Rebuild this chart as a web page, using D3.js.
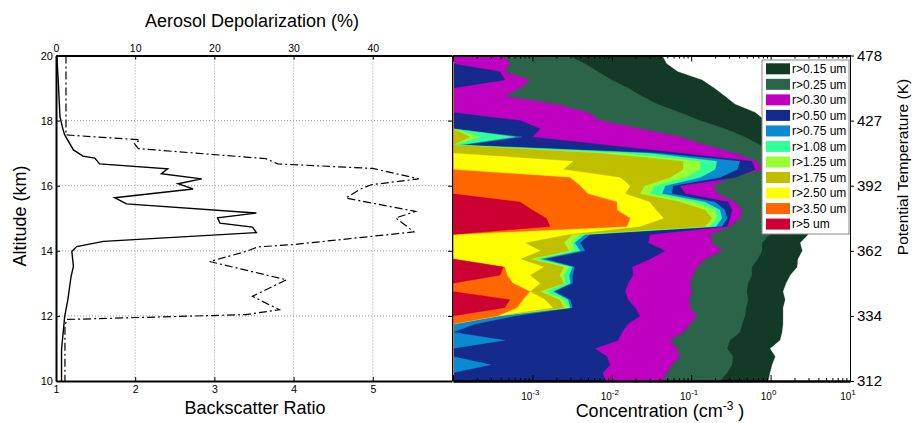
<!DOCTYPE html>
<html><head><meta charset="utf-8">
<script src="https://cdn.jsdelivr.net/npm/d3@7"></script>
<style>
body{margin:0;background:#fff}
svg{display:block}
text{font-family:Arial,"Liberation Sans",sans-serif;fill:#000}
</style>
</head><body>
<svg id="c" width="912" height="423"></svg>
<script>
const n = null;
// Altitude grid (km) for the size-resolved concentration profiles
const altitudes = [20,19.75,19.5,19.25,19,18.75,18.5,18.25,18,17.75,17.5,17.25,17,16.75,16.5,16.25,16,15.75,15.5,15.25,15,14.75,14.5,14.25,14,13.75,13.5,13.25,13,12.75,12.5,12.25,12,11.75,11.5,11.25,11,10.75,10.5,10.25,10];
// Cumulative concentrations (cm^-3)
const r015 = [0.043,0.049,0.068,0.137,0.194,0.266,0.356,0.64,0.85,1.14,1.52,2.03,2.71,3.32,3.96,4.2,4.4,4.4,4.2,3.96,3.62,3.32,2.96,2.35,2.5,2.2,2.15,1.76,1.56,1.43,1.52,1.43,1.43,1.43,1.39,1.31,0.98,1.14,1.04,0.98,0.93];
const r025 = [0.0028,0.0046,0.0067,0.010,0.016,0.024,0.038,0.072,0.129,0.266,0.476,0.735,0.98,1.24,1.52,1.76,1.76,1.76,1.66,1.52,1.39,1.24,0.98,0.78,0.78,0.69,0.58,0.58,0.52,0.50,0.52,0.49,0.476,0.437,0.41,0.308,0.283,0.336,0.326,0.283,0.231];
const r030 = [4.3e-4,5.2e-4,4.5e-4,9.3e-4,7.0e-4,4.5e-4,2.0e-3,5.0e-3,7.1e-3,0.0226,0.072,0.149,0.356,0.67,0.78,0.308,0.188,0.211,0.356,0.437,0.41,0.308,0.173,0.183,0.244,0.149,0.118,0.105,0.096,0.102,0.094,0.096,0.118,0.096,0.079,0.054,0.066,0.072,0.057,0.049,0.044];
const r050 = [n,n,3.9e-4,4.5e-4,n,n,n,n,7.0e-4,1.25e-3,1.0e-3,8.2e-3,0.075,0.58,0.64,0.356,0.072,0.084,0.29,0.326,0.308,0.283,0.0303,0.0286,0.0467,0.0303,0.018,0.0185,0.016,0.0147,0.016,0.0196,0.0226,0.016,0.0134,0.012,0.0061,0.0087,0.0095,0.0077,0.0082];
const r075 = [n,n,n,n,n,n,n,n,n,n,7.4e-4,1.34e-4,0.04,0.41,0.38,0.23,0.059,0.057,0.20,0.266,0.283,0.244,5.3e-3,4.0e-3,4.6e-3,1.44e-3,3.4e-3,3.2e-3,3.2e-3,1.9e-3,3.0e-3,3.2e-3,6.0e-4,1.9e-4,n,4.5e-4,n,n,3.0e-4,n,n];
const r108 = [n,n,n,n,n,n,n,n,n,n,6.0e-4,1.2e-4,0.030,0.21,0.20,0.129,0.047,0.043,0.149,0.23,0.244,0.205,4.6e-3,3.4e-3,4.0e-3,1.25e-3,3.2e-3,2.9e-3,3.0e-3,1.8e-3,2.8e-3,3.0e-3,3.9e-4,n,n,n,n,n,n,n,n];
const r125 = [n,n,n,n,n,n,n,n,n,n,2.2e-4,n,0.0127,0.129,0.129,0.084,0.035,0.030,0.112,0.20,0.21,0.173,4.0e-3,3.2e-3,3.4e-3,1.08e-3,2.9e-3,2.5e-3,2.6e-3,1.44e-3,2.5e-3,2.9e-3,3.6e-4,n,n,n,n,n,n,n,n];
const r175 = [n,n,n,n,n,n,n,n,n,n,1.64e-4,n,7.1e-3,0.079,0.079,0.054,0.026,0.0226,0.072,0.149,0.183,0.149,3.2e-3,2.5e-3,2.9e-3,9.3e-4,2.5e-3,2.2e-3,2.5e-3,1.25e-3,2.2e-3,2.5e-3,3.6e-4,n,n,n,n,n,n,n,n];
const r250 = [n,n,n,n,n,n,n,n,n,n,n,n,n,3.25e-3,2.43e-3,0.0127,0.017,0.0147,0.030,0.036,0.045,0.0226,2.8e-3,8.0e-4,1.25e-3,7.0e-4,1.38e-3,9.3e-4,1.25e-3,9.3e-4,1.44e-3,1.8e-3,3.6e-4,n,n,n,n,n,n,n,n];
const r350 = [n,n,n,n,n,n,n,n,n,n,n,n,n,n,n,2.97e-3,4.0e-3,5.0e-3,0.0116,0.0116,0.017,0.0155,n,n,n,n,4.5e-4,4.8e-4,5.7e-4,9.3e-4,7.6e-4,6.4e-4,3.6e-4,n,n,n,n,n,n,n,n];
const r500 = [n,n,n,n,n,n,n,n,n,n,n,n,n,n,n,n,n,n,7.0e-4,1.0e-3,1.5e-3,1.67e-3,n,n,n,n,4.3e-4,3.9e-4,n,n,5.2e-4,4.5e-4,n,n,n,n,n,n,n,n,n];
const sizeLabels = ["r>0.15 um","r>0.25 um","r>0.30 um","r>0.50 um","r>0.75 um","r>1.08 um","r>1.25 um","r>1.75 um","r>2.50 um","r>3.50 um","r>5 um"];
const sizeColors = ["#133a27","#2b6449","#c000c0","#142a8c","#0a8ad0","#33ff99","#99ff33","#bfbf00","#ffff00","#ff6600","#cc0033"];
const sizeSeries = [r015,r025,r030,r050,r075,r108,r125,r175,r250,r350,r500];

// Lidar profiles
const bsrAlt = [20.0,19.15,18.12,17.71,17.56,17.10,16.91,16.85,16.67,16.52,16.37,16.21,16.06,15.90,15.63,15.44,15.16,15.01,14.85,14.73,14.56,14.29,14.13,13.98,13.52,13.21,12.50,11.99,11.48,10.97,10.15,10.0];
const bsrVal = [1.01,1.03,1.05,1.09,1.11,1.22,1.34,1.49,1.55,2.41,2.33,2.84,2.54,2.73,1.74,1.89,3.53,3.04,3.07,3.48,3.53,1.60,1.26,1.20,1.22,1.19,1.15,1.11,1.09,1.07,1.07,1.07];
const depAlt = [20.0,17.56,17.41,17.29,17.14,16.83,16.67,16.53,16.21,16.03,15.88,15.62,15.21,15.01,14.58,14.19,14.12,13.98,13.67,13.11,12.60,12.19,12.04,11.89,11.68,10.15,10.0];
const depVal = [1.26,1.26,10.6,9.9,10.4,26.5,28.0,40.0,45.8,39.8,38.3,36.6,45.4,42.9,45.2,29.9,25.5,24.0,19.4,29.1,24.8,28.2,24.0,1.35,1.13,1.13,1.13];

// Axis ticks
const altTicks = [10,12,14,16,18,20];
const thetaLabels = ["312","334","362","392","427","478"];
const bsrTicks = [1,2,3,4,5];
const depTicks = [0,10,20,30,40];
const decadeExps = [-3,-2,-1,0,1];

const svg = d3.select("#c");
const yTop = 55.5, yBot = 381;
const Lx0 = 56, Lx1 = 452, Rx0 = 453, Rx1 = 850;
const y = d3.scaleLinear().domain([10,20]).range([yBot, yTop]);
const xB = d3.scaleLinear().domain([1,6]).range([Lx0, Lx1]);
const xD = d3.scaleLinear().domain([0,50]).range([Lx0, Lx1]);
const xC = d3.scaleLog().domain([1e-4,10]).range([Rx0, Rx1]);

// ---------- right panel areas ----------
svg.append("clipPath").attr("id","rc").append("rect")
  .attr("x",Rx0).attr("y",yTop).attr("width",Rx1-Rx0).attr("height",yBot-yTop);
const gR = svg.append("g").attr("clip-path","url(#rc)");
sizeSeries.forEach((s,k)=>{
  const area = d3.area()
    .y(i=>y(altitudes[i]))
    .x0(Rx0)
    .x1(i=> s[i]==null ? Rx0 : xC(s[i]));
  gR.append("path").datum(d3.range(altitudes.length))
    .attr("d",area).attr("fill",sizeColors[k]).attr("stroke",sizeColors[k]).attr("stroke-width",0.3);
});

// ---------- left panel grid ----------
const gL = svg.append("g");
bsrTicks.slice(1).forEach(v=>{
  gL.append("line").attr("x1",xB(v)).attr("x2",xB(v)).attr("y1",yTop).attr("y2",yBot)
    .attr("stroke","#9a9a9a").attr("stroke-dasharray","1,2");
});
altTicks.slice(1,-1).forEach(a=>{
  gL.append("line").attr("x1",Lx0).attr("x2",Lx1).attr("y1",y(a)).attr("y2",y(a))
    .attr("stroke","#9a9a9a").attr("stroke-dasharray","1,2");
});

// profiles
gL.append("path").datum(d3.range(depAlt.length))
  .attr("d",d3.line().x(i=>xD(depVal[i])).y(i=>y(depAlt[i])))
  .attr("fill","none").attr("stroke","#000").attr("stroke-width",1.2)
  .attr("stroke-dasharray","8,3,2,3");
gL.append("path").datum(d3.range(bsrAlt.length))
  .attr("d",d3.line().x(i=>xB(bsrVal[i])).y(i=>y(bsrAlt[i])))
  .attr("fill","none").attr("stroke","#000").attr("stroke-width",1.4);

// ---------- axes ----------
function styleAxis(g, fs, w){
  g.selectAll("text").style("font-size",fs+"px").style("font-family","Arial, 'Liberation Sans', sans-serif");
  g.selectAll(".tick line").attr("stroke","#000");
  g.select(".domain").attr("stroke","#000").attr("stroke-width",w);
}
const fmtInt = d3.format("d");
// left panel
styleAxis(svg.append("g").attr("transform",`translate(${Lx0},0)`)
  .call(d3.axisLeft(y).tickValues(altTicks).tickFormat(fmtInt).tickSize(-4).tickSizeOuter(0).tickPadding(3)), 11, 2);
styleAxis(svg.append("g").attr("transform",`translate(${Lx1},0)`)
  .call(d3.axisRight(y).tickValues(altTicks).tickSize(-4).tickSizeOuter(0).tickFormat("")), 11, 1);
styleAxis(svg.append("g").attr("transform",`translate(0,${yBot})`)
  .call(d3.axisBottom(xB).tickValues(bsrTicks).tickFormat(fmtInt).tickSize(-4).tickSizeOuter(0).tickPadding(5)), 10.5, 2);
styleAxis(svg.append("g").attr("transform",`translate(0,${yTop})`)
  .call(d3.axisTop(xD).tickValues(depTicks).tickFormat(fmtInt).tickSize(-4).tickSizeOuter(0).tickPadding(4)), 10.5, 2);

// right panel log axes
const minorTicks = xC.ticks().filter(v=>{const m=v/Math.pow(10,Math.floor(Math.log10(v)+1e-9)); return Math.abs(m-1)>1e-6;});
const majorTicks = xC.ticks().filter(v=>!minorTicks.includes(v));
[["b",yBot],["t",yTop]].forEach(([p,yy])=>{
  const mk = p==="b" ? d3.axisBottom : d3.axisTop;
  const g1 = svg.append("g").attr("transform",`translate(0,${yy})`)
    .call(mk(xC).tickValues(minorTicks).tickSize(-3).tickSizeOuter(0).tickFormat(""));
  styleAxis(g1,10,2);
  const g2 = svg.append("g").attr("transform",`translate(0,${yy})`)
    .call(mk(xC).tickValues(majorTicks).tickSize(-6).tickSizeOuter(0).tickFormat(""));
  styleAxis(g2,10,2);
});
decadeExps.forEach(e=>{
  const t = svg.append("text").attr("x",xC(Math.pow(10,e))-2).attr("y",yBot+19)
    .attr("text-anchor","middle").style("font-size","10px");
  t.append("tspan").text("10");
  t.append("tspan").attr("dy",-5).style("font-size","8px").text(e);
});
// right theta axis
styleAxis(svg.append("g").attr("transform",`translate(${Rx1},0)`)
  .call(d3.axisRight(y).tickValues(altTicks).tickSize(4).tickSizeOuter(0).tickPadding(3)
    .tickFormat((d,i)=>thetaLabels[i])), 15, 1);

// ---------- titles ----------
svg.append("text").attr("x",252).attr("y",27).attr("text-anchor","middle").style("font-size","18px").text("Aerosol Depolarization (%)");
svg.append("text").attr("x",255).attr("y",414).attr("text-anchor","middle").style("font-size","18px").text("Backscatter Ratio");
svg.append("text").attr("transform","translate(26,216) rotate(-90)").attr("text-anchor","middle").style("font-size","18px").text("Altitude (km)");
const ct = svg.append("text").attr("x",660).attr("y",417).attr("text-anchor","middle").style("font-size","18px");
ct.append("tspan").text("Concentration (cm");
ct.append("tspan").attr("dy",-7).style("font-size","12px").text("-3");
ct.append("tspan").attr("dy",7).text(" )");
svg.append("text").attr("transform","translate(908,167) rotate(-90)").attr("text-anchor","middle").style("font-size","15.5px").text("Potential Temperature (K)");

// ---------- legend ----------
const lg = svg.append("g");
lg.append("rect").attr("x",762).attr("y",60).attr("width",87).attr("height",174)
  .attr("fill","#fff").attr("stroke","#888").attr("stroke-width",1);
sizeLabels.forEach((lab,i)=>{
  const cy = 68.8 + i*15.53;
  lg.append("rect").attr("x",766).attr("y",cy-5.5).attr("width",24).attr("height",11).attr("fill",sizeColors[i]);
  lg.append("text").attr("x",792).attr("y",cy+4.2).style("font-size","12px").text(lab);
});
</script>
</body></html>
